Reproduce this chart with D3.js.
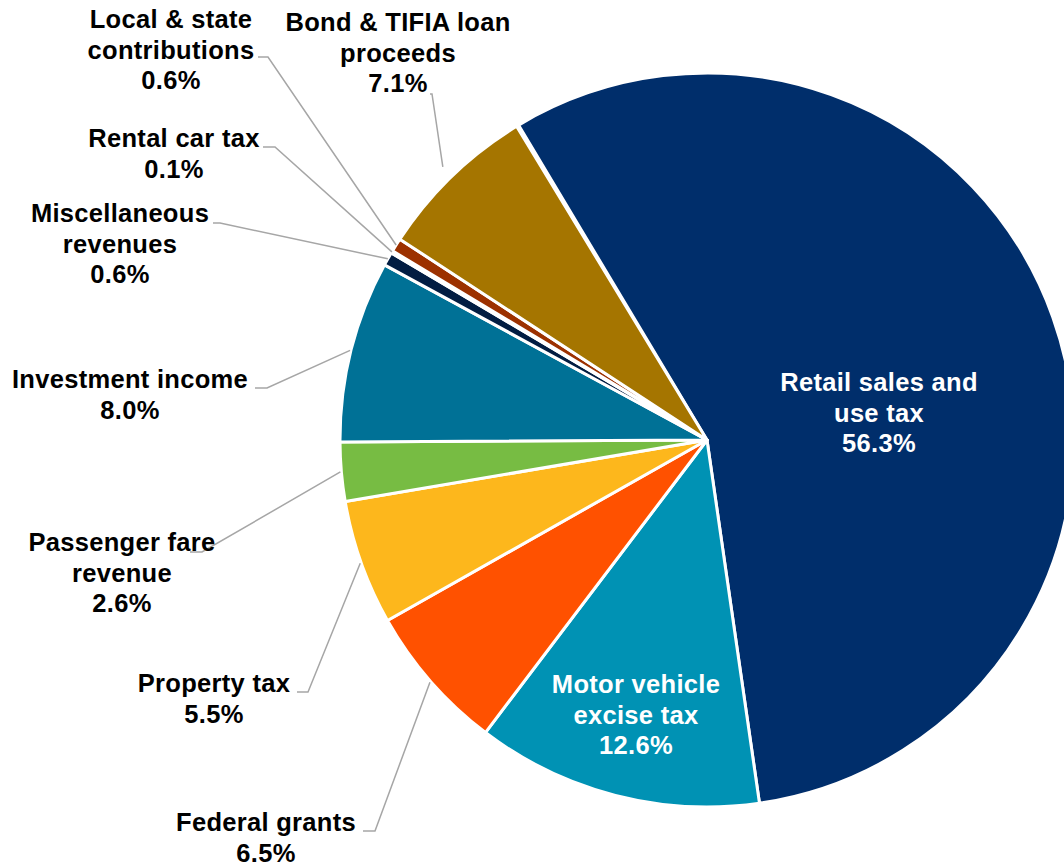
<!DOCTYPE html>
<html>
<head>
<meta charset="utf-8">
<script src="https://cdn.jsdelivr.net/npm/d3@7"></script>
<style>
  html, body { margin: 0; padding: 0; background: #ffffff; }
  svg { display: block; }
  text { font-family: "Liberation Sans", Arial, Helvetica, sans-serif; font-weight: bold; font-size: 25.5px; letter-spacing: 0.3px; }
</style>
</head>
<body>
<svg id="chart" width="1064" height="865"></svg>
<script>
// Revenue sources, share of total (%)
const categories = [
  "Retail sales and use tax",
  "Motor vehicle excise tax",
  "Federal grants",
  "Property tax",
  "Passenger fare revenue",
  "Investment income",
  "Miscellaneous revenues",
  "Rental car tax",
  "Local & state contributions",
  "Bond & TIFIA loan proceeds"
];
const shares = [56.3, 12.6, 6.5, 5.5, 2.6, 8.0, 0.6, 0.1, 0.6, 7.1];

// Wrapped label text for each category
const labelLines = [
  ["Retail sales and", "use tax"],
  ["Motor vehicle", "excise tax"],
  ["Federal grants"],
  ["Property tax"],
  ["Passenger fare", "revenue"],
  ["Investment income"],
  ["Miscellaneous", "revenues"],
  ["Rental car tax"],
  ["Local & state", "contributions"],
  ["Bond & TIFIA loan", "proceeds"]
];

const colors = [
  "#002E6B", "#0092B4", "#FF5100", "#FDB71C", "#77BC43",
  "#007196", "#021D42", "#5A3A1A", "#9C3100", "#A57500"
];

// Label placement: text centre x, first baseline y, inside flag,
// leader start (sx, elbow ex, y) and how far past the rim the leader stops.
const labelLayout = [
  { x: 879, y: 391, inside: true },
  { x: 636, y: 693, inside: true },
  { x: 266, y: 831, sx: 363, ex: 375, ly: 831, over: 1 },
  { x: 214, y: 692, sx: 297, ex: 308, ly: 692, over: 1 },
  { x: 122, y: 551, sx: 190, ex: 202, ly: 552, over: 1 },
  { x: 130, y: 388, sx: 255, ex: 267, ly: 388, over: 1 },
  { x: 120, y: 222, sx: 213, ex: 220, ly: 223, over: 0 },
  { x: 174, y: 147, sx: 263, ex: 275, ly: 147, over: 0 },
  { x: 171, y: 28,  sx: 258, ex: 268, ly: 57,  over: 0 },
  { x: 398, y: 31,  sx: 430, ex: 432, ly: 94,  over: 13 }
];

const width = 1064, height = 865;
const cx = 707, cy = 440, radius = 367;
const lineH = 30.6;
const deg = Math.PI / 180;

const svg = d3.select("#chart");
const g = svg.append("g").attr("transform", `translate(${cx},${cy})`);

const data = categories.map((c, i) => ({ name: c, value: shares[i], i }));

const pie = d3.pie()
  .sort(null)
  .value(d => d.value)
  .startAngle(-30.9 * deg)
  .endAngle(-30.9 * deg + 2 * Math.PI * d3.sum(shares) / 100);

const arc = d3.arc().innerRadius(0).outerRadius(radius);
const arcs = pie(data);

// Slices
g.selectAll("path.slice")
  .data(arcs)
  .join("path")
  .attr("class", "slice")
  .attr("d", arc)
  .attr("fill", d => colors[d.data.i])
  .attr("stroke", "#ffffff")
  .attr("stroke-width", 3)
  .attr("stroke-linejoin", "round");

// Leader lines for outside labels
const pointAt = (angle, r) => [r * Math.sin(angle), -r * Math.cos(angle)];
const leaders = arcs.filter(d => !labelLayout[d.data.i].inside);

g.selectAll("polyline.leader")
  .data(leaders)
  .join("polyline")
  .attr("class", "leader")
  .attr("fill", "none")
  .attr("stroke", "#A6A6A6")
  .attr("stroke-width", 1.5)
  .attr("points", d => {
    const L = labelLayout[d.data.i];
    const mid = (d.startAngle + d.endAngle) / 2;
    const [px, py] = pointAt(mid, radius + L.over);
    return [[L.sx - cx, L.ly - cy], [L.ex - cx, L.ly - cy], [px, py]]
      .map(p => p.join(",")).join(" ");
  });

// Labels
const fmt = d3.format(".1f");
const labels = svg.selectAll("text.label")
  .data(arcs)
  .join("text")
  .attr("class", "label")
  .attr("text-anchor", "middle")
  .attr("fill", d => labelLayout[d.data.i].inside ? "#ffffff" : "#000000");

labels.each(function (d) {
  const L = labelLayout[d.data.i];
  const lines = labelLines[d.data.i].concat([fmt(d.data.value) + "%"]);
  d3.select(this).selectAll("tspan")
    .data(lines)
    .join("tspan")
    .attr("x", L.x)
    .attr("y", (t, k) => L.y + k * lineH)
    .text(t => t);
});
</script>
</body>
</html>
